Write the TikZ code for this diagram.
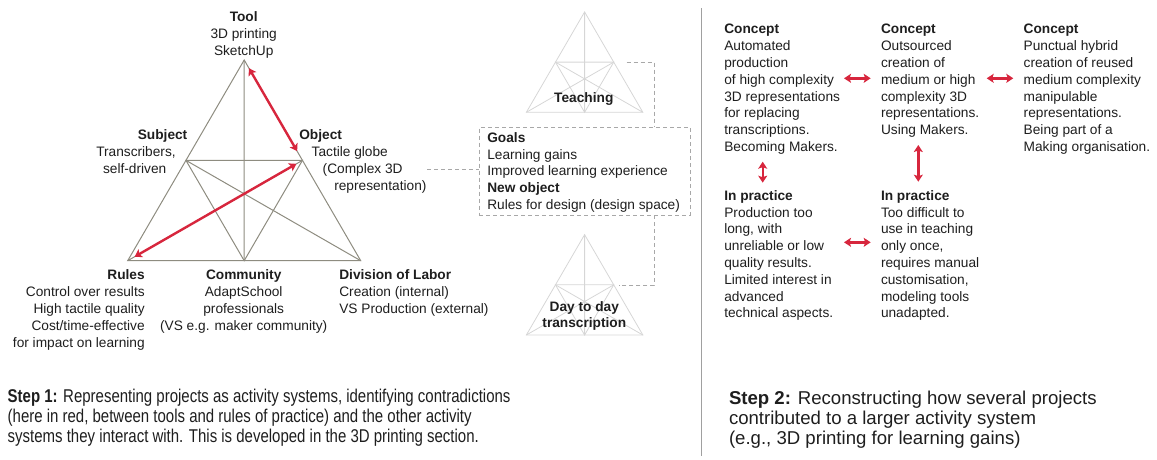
\documentclass[tikz,border=0pt]{standalone}
\usepackage{fontspec}
\setmainfont{Liberation Sans}
\newfontfamily\narrowfont[FakeStretch=0.81]{Liberation Sans}
\usetikzlibrary{arrows.meta,calc}
\definecolor{txt}{HTML}{1E1E1E}
\definecolor{trigray}{HTML}{8E8C80}
\definecolor{lightri}{HTML}{D6D6D6}
\definecolor{contra}{HTML}{D7263D}
\definecolor{dashgray}{HTML}{A8A8A8}
\definecolor{sepgray}{HTML}{A0A0A0}
\begin{document}
\begin{tikzpicture}[x=1pt,y=-1pt,
  every node/.style={inner sep=0pt,outer sep=0pt,text=txt},
  lbl/.style={font=\fontsize{13.7}{16.8}\selectfont},
  redarrow/.style={draw=contra,line width=2.4pt,{Stealth[length=7pt,width=9pt,inset=1.5pt]}-{Stealth[length=7pt,width=9pt,inset=1.5pt]}},
  dashline/.style={draw=dashgray,line width=0.8pt,dash pattern=on 4pt off 3pt},
  pics/acttri/.style={code={
    \coordinate (-L) at (-116.5,0);
    \coordinate (-R) at (116.5,0);
    \coordinate (-T) at (0,-200.7);
    \coordinate (-ml) at (-58.25,-100.35);
    \coordinate (-mr) at (58.25,-100.35);
    \coordinate (-mb) at (0,0);
    \draw (-L) -- (-R) -- (-T) -- cycle;
    \draw (-ml) -- (-mr) -- (-mb) -- cycle;
    \draw (-T) -- (-mb) (-L) -- (-mr) (-R) -- (-ml);
  }}
]
\useasboundingbox (0,0) rectangle (1157,459);

% main activity triangle
\pic[color=trigray,line width=1pt] (main) at (244.2,260.7) {acttri};
% small triangles
\pic[scale=0.5,color=lightri,line width=0.8pt] (teach) at (584.6,112.3) {acttri};
\pic[scale=0.5,color=lightri,line width=0.8pt] (day) at (584.6,335) {acttri};

% contradictions
\draw[redarrow,shorten <=9.5pt,shorten >=10.6pt] (main-T) -- (main-mr);
\draw[redarrow,shorten <=8pt,shorten >=7pt] (main-L) -- (main-mr);

% labels of main triangle (base anchor = baseline of the last line)
\node[lbl,align=center,anchor=base] (tool) at (243.7,55.1) {\textbf{Tool}\\3D printing\\SketchUp};
\node[lbl,align=right,anchor=base east] (subject) at (187.3,173.4) {\textbf{Subject}\\Transcribers,\rule{11.6pt}{0pt}\\self-driven\rule{21pt}{0pt}};
\node[lbl,align=left,anchor=base west] (object) at (299.3,190.2) {\textbf{Object}\\\hspace*{12.4pt}Tactile globe\\\hspace*{23.4pt}(Complex 3D\\\hspace*{35pt}representation)};
\node[lbl,align=right,anchor=base east] (rules) at (144.7,347) {\textbf{Rules}\\Control over results\\High tactile quality\\Cost/time-effective\\for impact on learning};
\node[lbl,align=center,anchor=base] (community) at (243.7,330.2) {\textbf{Community}\\AdaptSchool\\professionals\\(VS e.g. maker community)};
\node[lbl,align=left,anchor=base west] (division) at (339.3,313.4) {\textbf{Division of Labor}\\Creation (internal)\\VS Production (external)};

% other activity systems
\node[lbl,anchor=base] (teachlbl) at (583.8,102.7) {\textbf{Teaching}};
\node[lbl,align=center,anchor=base] (daylbl) at (584.3,327.8) {\textbf{Day to day}\\\textbf{transcription}};

\node[draw=dashgray,dash pattern=on 4pt off 3pt,line width=0.8pt,
      minimum width=210.7pt,minimum height=88pt,anchor=north west]
  (goals) at (479.3,127) {};
\node[lbl,align=left,anchor=base west] (goalstext) at (487.3,209.5)
  {\textbf{Goals}\\Learning gains\\Improved learning experience\\\textbf{New object}\\Rules for design (design space)};

\coordinate (objend) at (427,169);
\draw[dashline] (objend) -- (objend -| goals.west);
\coordinate (teachend) at (626.7,62.3);
\draw[dashline] (teachend) -| ($(goals.north west)+(175,0)$);
\coordinate (dayend) at (619,285);
\draw[dashline] ($(goals.south west)+(175,0)$) |- (dayend);

% separator
\coordinate (sepT) at (701.7,8);
\coordinate (sepB) at (701.7,456);
\draw[sepgray,line width=1pt] (sepT) -- (sepB);

% step 2 panel
\node[lbl,align=left,anchor=base west] (c1) at (724.3,151.4) {\textbf{Concept}\\Automated\\production\\of high complexity\\3D representations\\for replacing\\transcriptions.\\Becoming Makers.};
\node[lbl,align=left,anchor=base west] (c2) at (881,134.6) {\textbf{Concept}\\Outsourced\\creation of\\medium or high\\complexity 3D\\representations.\\Using Makers.};
\node[lbl,align=left,anchor=base west] (c3) at (1023.7,151.4) {\textbf{Concept}\\Punctual hybrid\\creation of reused\\medium complexity\\manipulable\\representations.\\Being part of a\\Making organisation.};
\node[lbl,align=left,anchor=base west] (p1) at (724.3,317.8) {\textbf{In practice}\\Production too\\long, with\\unreliable or low\\quality results.\\Limited interest in\\advanced\\technical aspects.};
\node[lbl,align=left,anchor=base west] (p2) at (881,317.8) {\textbf{In practice}\\Too difficult to\\use in teaching\\only once,\\requires manual\\customisation,\\modeling tools\\unadapted.};

\coordinate (h1a) at (844,78.3);   \coordinate (h1b) at (870.7,78.3);
\coordinate (h2a) at (986.7,78.3); \coordinate (h2b) at (1013.3,78.3);
\coordinate (h3a) at (844,242.3);  \coordinate (h3b) at (870.7,242.3);
\coordinate (v1a) at (762.7,161.7); \coordinate (v1b) at (762.7,182.7);
\coordinate (v2a) at (918.3,145);   \coordinate (v2b) at (918.3,181.7);
\draw[redarrow] (h1a) -- (h1b);
\draw[redarrow] (h2a) -- (h2b);
\draw[redarrow] (h3a) -- (h3b);
\draw[redarrow] (v1a) -- (v1b);
\draw[redarrow] (v2a) -- (v2b);

% captions
\node[anchor=base west,align=left,font=\narrowfont\fontsize{18.5}{20}\selectfont] (step1) at (7.7,442.7)
  {\textbf{Step 1:} Representing projects as activity systems, identifying contradictions\\(here in red, between tools and rules of practice) and the other activity\\systems they interact with. This is developed in the 3D printing section.};
\node[anchor=base west,align=left,font=\fontsize{18.6}{20}\selectfont] (step2) at (729,444.3)
  {\textbf{Step 2:} Reconstructing how several projects\\contributed to a larger activity system\\(e.g., 3D printing for learning gains)};
\end{tikzpicture}
\end{document}
